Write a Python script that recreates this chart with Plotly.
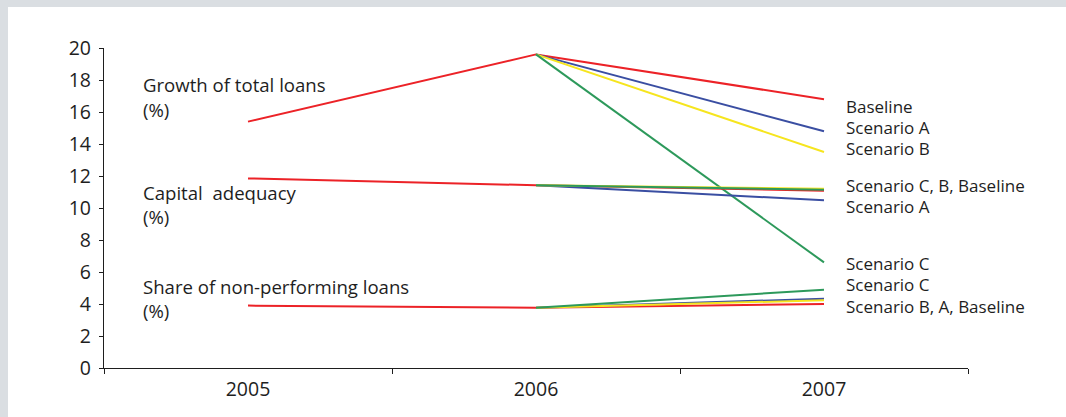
import plotly.graph_objects as go

years = ["2005", "2006", "2007"]

growth_baseline = [15.4, 19.6, 16.8]
growth_a = [None, 19.6, 14.8]
growth_b = [None, 19.6, 13.5]
growth_c = [None, 19.6, 6.6]

capital_baseline = [11.85, 11.42, 11.08]
capital_a = [None, 11.42, 10.48]
capital_b = [None, 11.42, 11.2]
capital_c = [None, 11.42, 11.14]

npl_baseline = [3.9, 3.77, 4.0]
npl_a = [None, 3.77, 4.33]
npl_b = [None, 3.77, 4.23]
npl_c = [None, 3.77, 4.89]

y_ticks = list(range(0, 21, 2))

left_lines = ["Growth of total loans", "(%)",
              "Capital\u00a0 adequacy", "(%)",
              "Share of non-performing loans", "(%)"]
left_line_y = [17.72, 16.16, 10.96, 9.44, 5.08, 3.58]

right_labels = ["Baseline", "Scenario A", "Scenario B",
                "Scenario C, B, Baseline", "Scenario A",
                "Scenario C", "Scenario C", "Scenario B, A, Baseline"]
right_label_y = [16.375, 15.04, 13.69, 11.39, 10.125, 6.54, 5.23, 3.83]

RED = "#ec2227"
BLUE = "#3a4ea2"
YELLOW = "#f6e51e"
GREEN = "#2d995b"
TEXT = "#1e1e1e"
GRAY = "#dadee2"
FONT = "Open Sans"

fig = go.Figure()

groups = [
    (growth_baseline, growth_a, growth_b, growth_c),
    (capital_baseline, capital_a, capital_b, capital_c),
    (npl_baseline, npl_a, npl_b, npl_c),
]
for base, a, b, c in groups:
    for vals, col in ((base, RED), (a, BLUE), (b, YELLOW), (c, GREEN)):
        fig.add_trace(go.Scatter(x=years, y=vals, mode="lines",
                                 line=dict(color=col, width=2),
                                 connectgaps=False, showlegend=False,
                                 hoverinfo="skip"))

annotations = []
for txt, yv in zip(left_lines, left_line_y):
    annotations.append(dict(x=0.0428, xref="paper", y=yv, yref="y",
                            text=txt, showarrow=False, xanchor="left",
                            yanchor="middle", align="left",
                            font=dict(family=FONT, size=18.6, color=TEXT)))
for txt, yv in zip(right_labels, right_label_y):
    annotations.append(dict(x=0.8565, xref="paper", y=yv, yref="y",
                            text=txt, showarrow=False, xanchor="left",
                            yanchor="middle", align="left",
                            font=dict(family=FONT, size=17, color=TEXT)))

# page: gray frame of 8px (left) and 7px (top); figure fills the rest
W, H = 1058, 410
L, R, T, B = 96, 98, 41, 49

fig.update_layout(
    width=W, height=H,
    margin=dict(l=L, r=R, t=T, b=B, pad=0),
    paper_bgcolor="white", plot_bgcolor="white",
    font=dict(family=FONT, color=TEXT),
    annotations=annotations,
    xaxis=dict(type="category", range=[-0.5, 2.5], tickson="boundaries",
               ticks="outside", ticklen=5, tickcolor=TEXT, tickwidth=1,
               showline=True, linecolor=TEXT, linewidth=1.3,
               showgrid=False, zeroline=False, ticklabelstandoff=3,
               tickfont=dict(family=FONT, size=19.5, color=TEXT)),
    yaxis=dict(range=[0, 20], tickvals=y_ticks, ticks="outside",
               ticklen=4, tickcolor=TEXT, tickwidth=1,
               showline=True, linecolor=TEXT, linewidth=1.3,
               showgrid=False, zeroline=False, ticklabelstandoff=4,
               tickfont=dict(family=FONT, size=19.5, color=TEXT)),
)

post = ("document.body.style.margin='7px 0 0 8px';"
        "document.body.style.background='" + GRAY + "';"
        "document.body.style.overflow='hidden';")

fig.write_html("out.html", post_script=post)
